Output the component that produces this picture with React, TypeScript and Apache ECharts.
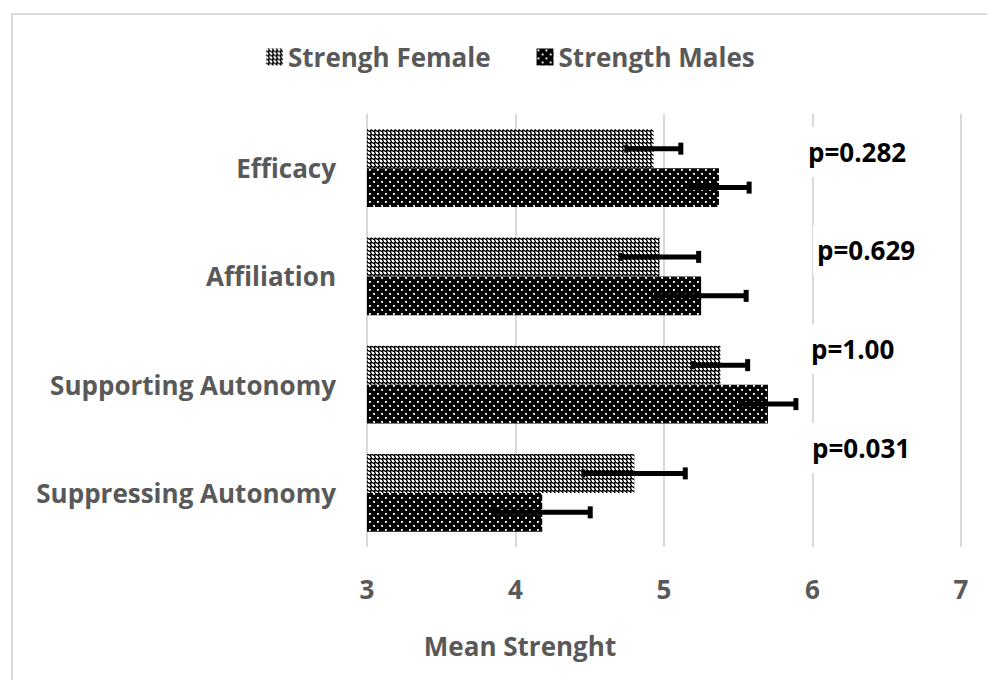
import React, { useEffect, useRef } from "react";
import * as echarts from "echarts";

const categories = ["Efficacy", "Affiliation", "Supporting Autonomy", "Suppressing Autonomy"];
const seriesNames = ["Strengh Female", "Strength Males"];
const femaleMeans = [4.93, 4.97, 5.38, 4.8];
const femaleErrors = [0.19, 0.27, 0.19, 0.35];
const maleMeans = [5.37, 5.25, 5.7, 4.18];
const maleErrors = [0.21, 0.31, 0.195, 0.33];
const pValues = ["p=0.282", "p=0.629", "p=1.00", "p=0.031"];
const xMin = 3;
const xMax = 7;
const xInterval = 1;
const axisTitle = "Mean Strenght";

const FONT = "'Open Sans', 'Noto Sans', sans-serif";
const GRAY = "#595959";
const WEIGHT = 700;
const FS = 26;

function makePattern(rows: string[]) {
  const w = rows[0].length;
  const h = rows.length;
  const c = document.createElement("canvas");
  c.width = w;
  c.height = h;
  const ctx = c.getContext("2d")!;
  ctx.fillStyle = "#000";
  ctx.fillRect(0, 0, w, h);
  rows.forEach((r, y) => {
    for (let x = 0; x < r.length; x++) {
      if (r[x] === ".") {
        ctx.fillStyle = "#fff";
        ctx.fillRect(x, y, 1, 1);
      } else if (r[x] === "+") {
        ctx.fillStyle = "#8a8a8a";
        ctx.fillRect(x, y, 1, 1);
      }
    }
  });
  return { image: c, repeat: "repeat", imageWidth: w, imageHeight: h } as any;
}

const femalePattern = () => makePattern(["..#+", "..+#", "#+##", "+##+"]);
const malePattern = () =>
  makePattern([
    "########",
    "#..#####",
    "#.+#####",
    "########",
    "########",
    "#####..#",
    "#####+.#",
    "########",
  ]);

export default function App() {
  const ref = useRef<HTMLDivElement>(null);
  useEffect(() => {
    if (!ref.current) return;
    const chart = echarts.init(ref.current, undefined, { renderer: "svg" });
    const gap = 0.28;
    const errSeries = (means: number[], errs: number[], sign: number) => ({
      type: "custom",
      silent: true,
      z: 10,
      data: means.map((m, i) => [m, i, errs[i]]),
      encode: { x: 0, y: 1 },
      renderItem: (_p: any, api: any) => {
        const v = api.value(0);
        const idx = api.value(1);
        const e = api.value(2);
        const band = api.size([0, 1])[1];
        const off = (sign * band * (1 - gap)) / 4;
        const p0 = api.coord([v - e, idx]);
        const p1 = api.coord([v + e, idx]);
        const y = p0[1] + off;
        return {
          type: "group",
          children: [
            { type: "line", shape: { x1: p0[0], y1: y, x2: p1[0], y2: y }, style: { stroke: "#000", lineWidth: 5 } },
            { type: "line", shape: { x1: p1[0] - 1, y1: y - 6, x2: p1[0] - 1, y2: y + 6 }, style: { stroke: "#000", lineWidth: 5 } },
            { type: "line", shape: { x1: p0[0] + 1, y1: y - 4, x2: p0[0] + 1, y2: y + 4 }, style: { stroke: "#000", lineWidth: 4 } },
          ],
        };
      },
    });
    const pPos = [
      [804, 152],
      [813, 250],
      [807, 349],
      [808, 448],
    ];
    chart.setOption({
      animation: false,
      backgroundColor: "#fff",
      legend: {
        data: seriesNames,
        left: 261,
        top: 39,
        itemWidth: 17,
        itemHeight: 17,
        itemGap: 46,
        icon: "rect",
        textStyle: { fontFamily: FONT, fontSize: FS, color: GRAY, fontWeight: WEIGHT },
      },
      grid: { left: 367, right: 26, top: 114, bottom: 133 },
      xAxis: {
        type: "value",
        min: xMin,
        max: xMax,
        interval: xInterval,
        axisLine: { show: false },
        axisTick: { show: false },
        splitLine: { show: true, lineStyle: { color: "#d9d9d9", width: 2 } },
        axisLabel: { margin: 29, fontFamily: FONT, fontSize: FS, color: GRAY, fontWeight: WEIGHT },
      },
      yAxis: {
        type: "category",
        inverse: true,
        data: categories,
        axisLine: { show: false },
        axisTick: { show: false },
        axisLabel: { margin: 31, fontFamily: FONT, fontSize: FS, color: GRAY, fontWeight: WEIGHT },
      },
      series: [
        {
          name: seriesNames[0],
          type: "bar",
          data: femaleMeans,
          barGap: "0%",
          barCategoryGap: gap * 100 + "%",
          itemStyle: { color: femalePattern() },
        },
        {
          name: seriesNames[1],
          type: "bar",
          data: maleMeans,
          barGap: "0%",
          barCategoryGap: gap * 100 + "%",
          itemStyle: { color: malePattern() },
        },
        errSeries(femaleMeans, femaleErrors, -1),
        errSeries(maleMeans, maleErrors, 1),
      ],
      graphic: [
        {
          type: "rect",
          shape: { x: 12, y: 14, width: 1200, height: 1200 },
          style: { fill: "none", stroke: "#d9d9d9", lineWidth: 2 },
          z: -1,
        },
        {
          type: "text",
          x: 520,
          y: 646,
          style: {
            text: axisTitle,
            fontFamily: FONT,
            fontSize: FS,
            fontWeight: WEIGHT,
            fill: GRAY,
            align: "center",
            verticalAlign: "middle",
          },
        },
        ...pValues.map((t, i) => ({
          type: "text",
          x: pPos[i][0],
          y: pPos[i][1],
          z: 20,
          style: {
            text: t,
            fontFamily: FONT,
            fontSize: 26,
            fontWeight: 700,
            fill: "#000",
            align: "left",
            verticalAlign: "middle",
            backgroundColor: "#fff",
            padding: [12, 4, 12, 4],
          },
        })),
      ],
    });
    return () => chart.dispose();
  }, []);
  return (
    <div
      ref={ref}
      style={{ position: "fixed", left: 0, top: 0, width: 987, height: 680 }}
    />
  );
}
